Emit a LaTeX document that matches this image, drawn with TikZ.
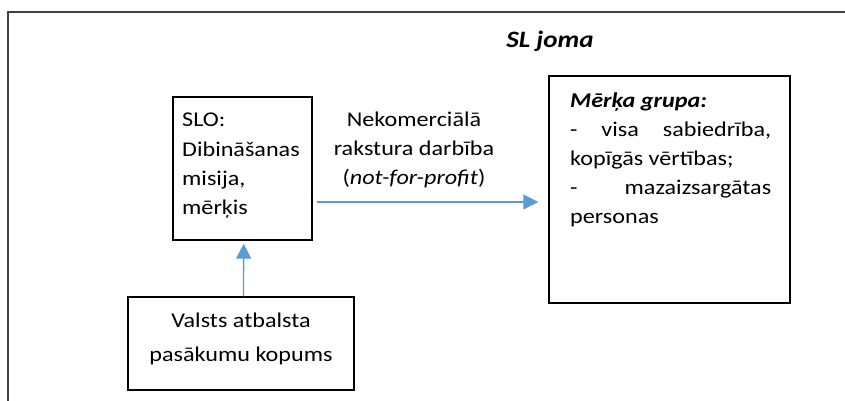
\documentclass[tikz,border=0pt]{standalone}
\usepackage{fontspec}
\setmainfont{Carlito}[FakeStretch=1.15]
\usetikzlibrary{arrows.meta}
\definecolor{frameg}{HTML}{404040}
\definecolor{arrblue}{HTML}{5B9BD5}
\tikzset{
  boxnode/.style={draw=black, line width=1.4pt, rectangle, inner sep=0pt},
  txt/.style={anchor=base west, inner sep=0pt, font=\fontsize{21}{29}\selectfont},
  ctxt/.style={anchor=base, inner sep=0pt, font=\fontsize{21}{29}\selectfont},
  arr/.style={draw=arrblue, line width=1.3pt, -{Triangle[length=15pt,width=15pt]}, arrblue}
}
\begin{document}
\begin{tikzpicture}[x=1pt,y=1pt]
\useasboundingbox (0,0) rectangle (845,-401);
% outer frame (open at right and bottom)
\draw[frameg, line width=2pt] (7.5,-401) -- (7.5,-12) -- (845,-12);
\node[ctxt, font=\fontsize{23.5}{29}\selectfont\bfseries\itshape] (title) at (550,-48) {SL joma};
% boxes
\node[boxnode, minimum width=139pt, minimum height=143pt] (slo) at (242.5,-168.5) {};
\node[boxnode, minimum width=241pt, minimum height=227pt] (target) at (669.5,-189.5) {};
\node[boxnode, minimum width=226pt, minimum height=93pt] (valsts) at (241,-343.5) {};
% texts in SLO box
\node[txt] (slo1) at (182,-127) {SLO:};
\node[txt] (slo2) at (182,-156) {Dibināšanas};
\node[txt] (slo3) at (182,-185) {misija,};
\node[txt] (slo4) at (182,-214) {mērķis};
% texts in target box
\node[txt] (tgttext) at (570,-107) {\parbox[t]{201pt}{\fontsize{21}{29}\selectfont
{\bfseries\itshape Mērķa grupa:}\\
\makebox[201pt][s]{-\hfill visa\hfill sabiedrība,}\\
kopīgās vērtības;\\
\makebox[201pt][s]{-\hfill mazaizsargātas}\\
personas}};
% arrow label
\node[ctxt] (lab1) at (414,-126) {Nekomerciālā};
\node[ctxt] (lab2) at (414,-155) {rakstura darbība};
\node[ctxt] (lab3) at (414,-184) {(\textit{not-for-profit})};
% texts in lower box
\node[ctxt] (val1) at (241,-327) {Valsts atbalsta};
\node[ctxt] (val2) at (241,-361) {pasākumu kopums};
% arrows
\draw[arr] ([xshift=4pt,yshift=-33.5pt]slo.east) -- ([xshift=-10pt,yshift=-12.5pt]target.west);
\draw[arr] ([xshift=2.5pt]valsts.north) -- ([xshift=1.2pt,yshift=-3pt]slo.south);
\end{tikzpicture}
\end{document}
